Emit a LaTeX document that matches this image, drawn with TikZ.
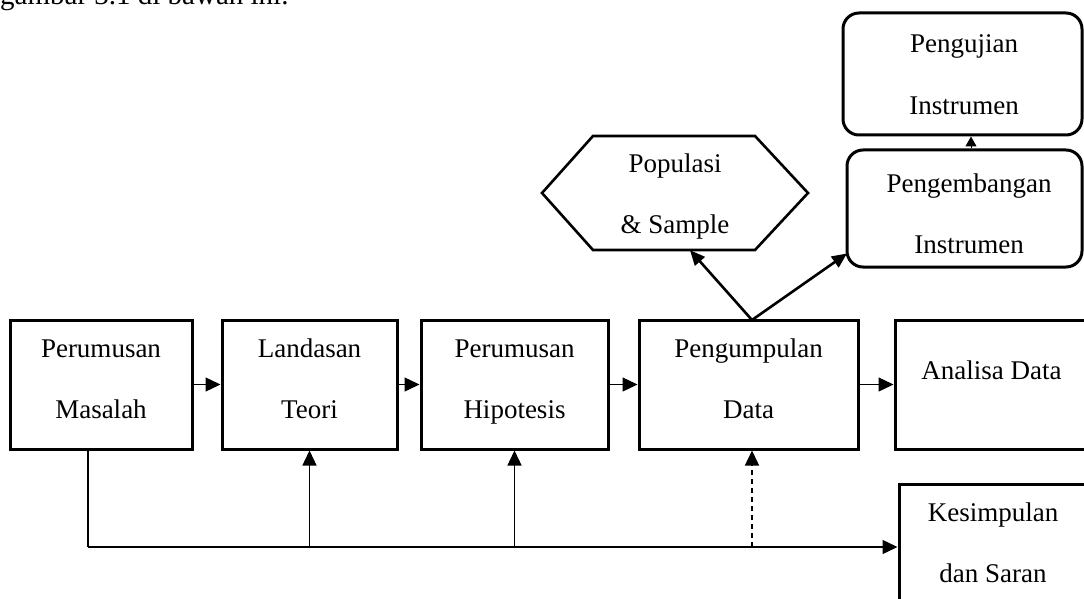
\documentclass[tikz,border=0pt]{standalone}
\usepackage{fontspec}
\setmainfont{Liberation Serif}
\usetikzlibrary{arrows.meta,calc}
\begin{document}
\begin{tikzpicture}[x=1pt,y=-1pt,
  boxnode/.style={draw, line width=3pt, inner sep=0pt, rectangle},
  rbox/.style={boxnode, rounded corners=16pt},
  txt/.style={inner sep=0pt, font=\fontsize{27}{33}\selectfont, anchor=base},
  conn/.style={line width=1.4pt, -{Triangle[length=15pt,width=14pt]}},
  diag/.style={line width=2.6pt, -{Triangle[length=15pt,width=13pt]}},
  tiny/.style={line width=1pt, -{Triangle[length=10pt,width=11pt]}}]
\fill[white] (0,0) rectangle (1084,599);
\useasboundingbox (0,0) rectangle (1084,599);

% header text (cut at the top)
\node[txt, anchor=base west, font=\fontsize{29}{35}\selectfont] (hdr) at (0,5) {gambar 3.1 di bawah ini.};

% main boxes
\node[boxnode, minimum width=182pt, minimum height=129pt] (pm) at (101,384.5) {};
\node[boxnode, minimum width=175pt, minimum height=129pt] (lt) at (309.5,384.5) {};
\node[boxnode, minimum width=187pt, minimum height=129pt] (ph) at (514.5,384.5) {};
\node[boxnode, minimum width=219pt, minimum height=129pt] (pd) at (748.5,384.5) {};
\node[boxnode, minimum width=195pt, minimum height=129pt] (ad) at (992.5,384.5) {};
\node[boxnode, minimum width=191pt, minimum height=136pt] (ks) at (994.5,552) {};
\node[rbox, minimum width=239pt, minimum height=122pt] (pu) at (962.5,74) {};
\node[rbox, minimum width=235pt, minimum height=117pt] (pi) at (964.5,208.5) {};

% hexagon
\node[inner sep=0pt, minimum width=266pt, minimum height=114pt] (hex) at (675,193) {};
\draw[line width=2.6pt, line join=miter]
  (542,193) -- (593,136) -- (755,136) -- (808,193) -- (755,250) -- (593,250) -- cycle;

% texts
\node[txt] (pmA) at (101,357) {Perumusan};
\node[txt] (pmB) at (101,418) {Masalah};
\node[txt] (ltA) at (309.5,357) {Landasan};
\node[txt] (ltB) at (309.5,418) {Teori};
\node[txt] (phA) at (514.5,357) {Perumusan};
\node[txt] (phB) at (514.5,418) {Hipotesis};
\node[txt] (pdA) at (748.5,357) {Pengumpulan};
\node[txt] (pdB) at (748.5,418) {Data};
\node[txt] (adA) at (991.5,379) {Analisa Data};
\node[txt] (ksA) at (993,521) {Kesimpulan};
\node[txt] (ksB) at (993,582) {dan Saran};
\node[txt] (puA) at (964,53) {Pengujian};
\node[txt] (puB) at (964,115) {Instrumen};
\node[txt] (piA) at (969,192) {Pengembangan};
\node[txt] (piB) at (969,253) {Instrumen};
\node[txt] (hxA) at (675,172) {Populasi};
\node[txt] (hxB) at (675,233) {\& Sample};

% horizontal flow
\draw[conn] (pm.east) -- (lt.west);
\draw[conn] (lt.east) -- (ph.west);
\draw[conn] (ph.east) -- (pd.west);
\draw[conn] (pd.east) -- (ad.west);

% bottom feedback line
\coordinate (c0) at (88,547);
\coordinate (c1) at (309.5,547);
\coordinate (c2) at (514.5,547);
\coordinate (c3) at (752,547);
\draw[line width=1.4pt] (pm.south -| c0) -- (c0);
\draw[conn] (c0) -- (c0 -| ks.west);
\draw[conn] (c1) -- (lt.south);
\draw[conn] (c2) -- (ph.south);
\draw[conn, dash pattern=on 5pt off 4pt] (c3) -- (pd.south -| c3);

% branches from Pengumpulan Data
\coordinate (split) at (752,320);
\draw[diag] (split) -- ($(hex.south)+(15,0)$);
\draw[diag] (split) -- ($(pi.south west)+(1.5,-15)$);
\draw[tiny] ($(pi.north)+(6.5,0)$) -- ($(pu.south)+(8.5,0)$);
\end{tikzpicture}
\end{document}
